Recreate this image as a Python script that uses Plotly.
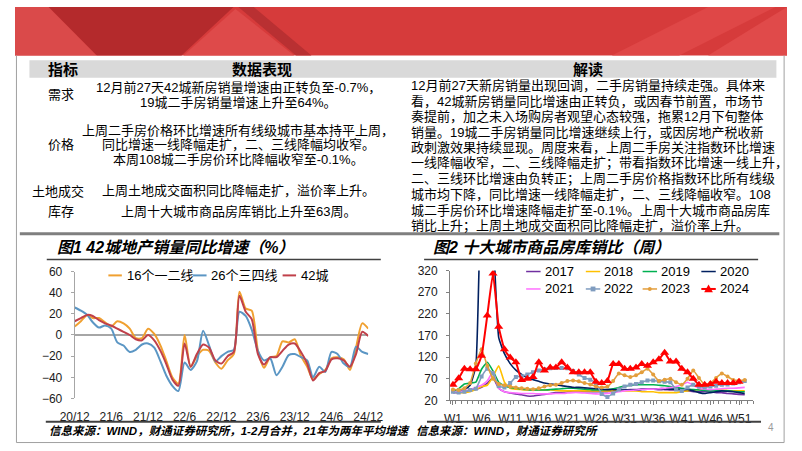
import plotly.graph_objects as go
import pandas as pd

# ---------------- data ----------------
MONTHS = pd.date_range("2020-12-01", "2024-12-01", freq="MS")
CH1_TICK_LABELS = ["20/12", "21/6", "21/12", "22/6", "22/12", "23/6", "23/12", "24/6", "24/12"]
CH1_NAMES = ["16个一二线", "26个三四线", "42城"]
TIER12 = [8, 13, 19, 16, 16, 12, 8, 13, 11, 6,
          -3, -3, 6, 1, -10, -24, -40, -46, 0, -30,
          -20, -14, -15, -26, -32, -24, -18, 41, 25, 23,
          -15, -31, -21, -20, -6, -7, -4, -20, -30, -42,
          -37, -33, -22, -21, -23, -33, -12, 11, 6]
TIER34 = [26, 23, 19, 12, 7, 9, 6, -7, -10, -16,
          -14, -9, -8, -12, -25, -38, -48, -53, -26, -33,
          -25, 4, -10, -25, -20, -16, -14, 22, 18, 5,
          -15, -24, -22, -38, -30, -19, -18, -21, -24, -40,
          -30, -35, -16, -18, -27, -30, -11, -16, -18]
CITY42 = [13, 16, 19, 18, 14, 11, 9, 6, 3, 0,
          -4, -5, 0, -5, -15, -27, -42, -48, -8, -30,
          -18, -9, -12, -24, -27, -20, -16, 37, 22, 15,
          -18, -28, -21, -21, -15, -9, -8, -16, -27, -43,
          -36, -34, -23, -22, -24, -30, -18, 3, -1]

WEEK_TICK_VALS = [1, 6, 11, 16, 21, 26, 31, 36, 41, 46, 51]
WEEK_TICK_LABELS = ["W1", "W6", "W11", "W16", "W21", "W26", "W31", "W36", "W41", "W46", "W51"]
Y2017 = [38, 38, 40, 42, 45, 50, 60, 72, 48, 40, 37, 35, 33, 30, 30, 32, 34, 36, 38, 38,
         40, 40, 40, 40, 40, 40, 40, 40, 42, 42, 44, 45, 45, 46, 46, 46, 45, 45, 44, 44,
         42, 42, 40, 40, 40, 40, 38, 38, 36, 35, 34, 33]
Y2018 = [40, 38, 38, 40, 45, 52, 55, 75, 100, 62, 48, 46, 45, 44, 44, 44, 44, 44, 43, 42,
         42, 42, 42, 42, 42, 42, 42, 42, 42, 42, 42, 42, 42, 40, 40, 40, 38, 38, 38, 38,
         40, 42, 44, 45, 45, 44, 44, 44, 43, 42, 42, 42]
Y2019 = [40, 47, 58, 60, 62, 92, 108, 88, 62, 54, 50, 48, 46, 45, 44, 44, 44, 45, 46, 47,
         48, 48, 47, 46, 45, 44, 44, 45, 47, 50, 53, 55, 56, 56, 56, 56, 55, 54, 52, 50,
         48, 46, 45, 44, 43, 42, 42, 42, 42, 41, 40, 40]
Y2020 = [40, 40, 45, 55, 100, 560, 700, 420, 165, 128, 105, 90, 80, 72, 68, 64, 60, 58, 56, 54,
         52, 50, 50, 49, 48, 47, 46, 45, 45, 44, 44, 44, 44, 45, 46, 46, 47, 47, 46, 46,
         45, 45, 42, 38, 36, 38, 40, 42, 41, 40, 38, 36]
Y2021 = [40, 40, 42, 45, 50, 55, 65, 86, 48, 40, 38, 37, 36, 36, 36, 35, 35, 35, 36, 36,
         37, 38, 38, 37, 36, 35, 35, 36, 38, 40, 42, 43, 44, 45, 46, 46, 47, 48, 50, 52,
         56, 62, 55, 48, 46, 45, 46, 47, 48, 48, 49, 50]
Y2022 = [40, 38, 40, 44, 47, 75, 93, 82, 53, 50, 60, 74, 76, 80, 85, 89, 92, 94, 95, 95,
         94, 88, 80, 72, 68, 60, 35, 28, 36, 45, 52, 56, 58, 62, 66, 66, 64, 63, 62, 45,
         42, 50, 56, 52, 50, 52, 54, 56, 57, 59, 62, 65]
Y2023 = [45, 44, 48, 60, 105, 138, 100, 70, 58, 55, 52, 50, 48, 47, 46, 48, 52, 55, 56, 60,
         65, 66, 64, 60, 57, 52, 50, 52, 65, 82, 78, 74, 78, 85, 93, 80, 65, 68, 70, 62,
         56, 70, 89, 72, 56, 60, 72, 82, 75, 67, 66, 67]
Y2024 = [56, 71, 93, 92, 92, 123, 216, 313, 190, 138, 119, 108, 67, 70, 74, 108, 89, 96, 96, 108,
         96, 85, 85, 85, 85, 63, 60, 65, 104, 104, 93, 93, 96, 104, 100, 108, 115, 130, 110, 110,
         93, 85, 70, 56, 56, 58, 63, 60, 60, 60, 63]
YEARS = ["2017", "2018", "2019", "2020", "2021", "2022", "2023", "2024"]

# ---------------- styles ----------------
W, H = 802, 451
FONT = "Liberation Sans, Noto Sans CJK SC, sans-serif"
C1 = ["#F0A030", "#5B96C4", "#C0404A"]
C2 = {"2017": "#7030A0", "2018": "#FFC000", "2019": "#00B050", "2020": "#002060",
      "2021": "#FF70FF", "2022": "#7F9CBF", "2023": "#E39E3C", "2024": "#FF0000"}


def X(p):
    return p / W


def Y(p):
    return 1 - p / H


shapes, annots = [], []


def line(x0, y0, x1, y1, color, width=1):
    shapes.append(dict(type="line", xref="paper", yref="paper", x0=X(x0), y0=Y(y0),
                       x1=X(x1), y1=Y(y1), line=dict(color=color, width=width)))


def poly(pts, color, layer="below"):
    path = "M " + " L ".join(f"{X(a):.5f},{Y(b):.5f}" for a, b in pts) + " Z"
    shapes.append(dict(type="path", xref="paper", yref="paper", path=path,
                       fillcolor=color, line=dict(width=0), layer=layer))


def text(x, y, s, size=13, color="#000", xanchor="center", family=FONT):
    annots.append(dict(x=X(x), y=Y(y), xref="paper", yref="paper", text=s, showarrow=False,
                       xanchor=xanchor, yanchor="middle", font=dict(size=size, color=color, family=family)))


# ---------------- banner ----------------
poly([(0, 0), (802, 0), (802, 50), (0, 50)], "#D63B3B")
poly([(0, 0), (35, 0), (85, 50), (0, 50)], "#DA4A4A")
poly([(35, 0), (227, 0), (173, 50), (85, 50)], "#B42A2C")
poly([(229, 2), (290, 50), (175, 50)], "#DE4A4A")
poly([(232, 0), (248, 0), (308, 50), (292, 50)], "#B93032")
poly([(620, 50), (690, 50), (790, 0), (720, 0)], "#DF4747")
poly([(720, 50), (802, 50), (802, 0)], "#E04A4A")

# slide frame
line(1.5, 50, 1.5, 449.5, "#A0A0A0", 1)
line(799, 50, 799, 449.5, "#A0A0A0", 1)
line(1.5, 449.5, 799, 449.5, "#A0A0A0", 1)

# ---------------- table ----------------
poly([(15, 55), (791, 55), (791, 73), (15, 73)], "#D9D9D9")
text(50, 64, "<b>指标</b>", 15)
text(257, 64, "<b>数据表现</b>", 15)
text(595, 64, "<b>解读</b>", 15)

text(48, 90, "需求", 13)
text(48, 142, "价格", 13)
text(45, 190, "土地成交", 13)
text(48, 211, "库存", 13)

data_lines = [
    ("12月前27天42城新房销量增速由正转负至-0.7%，", 83),
    ("19城二手房销量增速上升至64%。", 99),
    ("上周二手房价格环比增速所有线级城市基本持平上周，", 127),
    ("同比增速一线降幅走扩，二、三线降幅均收窄。", 142),
    ("本周108城二手房价环比降幅收窄至-0.1%。", 157),
    ("上周土地成交面积同比降幅走扩，溢价率上升。", 189),
    ("上周十大城市商品房库销比上升至63周。", 211),
]
for s, yy in data_lines:
    text(232, yy, s, 13)

read_lines = [
    "12月前27天新房销量出现回调，二手房销量持续走强。具体来",
    "看，42城新房销量同比增速由正转负，或因春节前置，市场节",
    "奏提前，加之未入场购房者观望心态较强，拖累12月下旬整体",
    "销量。19城二手房销量同比增速继续上行，或因房地产税收新",
    "政刺激效果持续显现。周度来看，上周二手房关注指数环比增速",
    "一线降幅收窄，二、三线降幅走扩；带看指数环比增速一线上升，",
    "二、三线环比增速由负转正；上周二手房价格指数环比所有线级",
    "城市均下降，同比增速一线降幅走扩，二、三线降幅收窄。108",
    "城二手房价环比增速降幅走扩至-0.1%。上周十大城市商品房库",
    "销比上升；上周土地成交面积同比降幅走扩，溢价率上升。",
]
for k, s in enumerate(read_lines):
    text(409, 81 + 16.1 * k, s, 13, xanchor="left")

line(5, 234, 794, 234, "#7F7F7F", 3)

# ---------------- chart titles / frames ----------------
text(42, 248, "<b><i>图1 42城地产销量同比增速（%）</i></b>", 16, xanchor="left")
text(432, 248, "<b><i>图2 十大城市商品房库销比（周）</i></b>", 16, xanchor="left")
line(33, 260.5, 380, 260.5, "#404040", 1.5)
line(425, 260.5, 772, 260.5, "#404040", 1.5)
line(32, 428, 380, 428, "#404040", 2)
line(428, 428, 775, 428, "#404040", 2)
text(33, 438, "<b><i>信息来源：WIND，财通证券研究所，1-2月合并，21年为两年平均增速</i></b>", 11.5, xanchor="left")
text(415, 438, "<b><i>信息来源：WIND，财通证券研究所</i></b>", 11.5, xanchor="left")
text(785, 434, "4", 10, color="#9A9A9A")

# ---------------- legends (manual) ----------------
leg1 = [(97, CH1_NAMES[0], C1[0]), (185, CH1_NAMES[1], C1[1]), (278, CH1_NAMES[2], C1[2])]
for x0, name, col in leg1:
    line(x0, 277, x0 + 14, 277, col, 2)
    text(x0 + 17, 277, name, 13, xanchor="left")

cols = [531, 593, 652, 713]
rows = [273, 291]
for idx, yr in enumerate(YEARS):
    x0 = cols[idx % 4]
    yy = rows[idx // 4]
    col = C2[yr]
    line(x0, yy, x0 + 15, yy, col, 2 if yr == "2024" else 1.5)
    cx = x0 + 7.5
    if yr == "2022":
        poly([(cx - 2.5, yy - 2.5), (cx + 2.5, yy - 2.5), (cx + 2.5, yy + 2.5), (cx - 2.5, yy + 2.5)], col, "above")
    elif yr == "2023":
        shapes.append(dict(type="circle", xref="paper", yref="paper", x0=X(cx - 2), x1=X(cx + 2),
                           y0=Y(yy + 2), y1=Y(yy - 2), fillcolor=col, line=dict(width=0)))
    elif yr == "2024":
        poly([(cx - 4.5, yy + 3.5), (cx + 4.5, yy + 3.5), (cx, yy - 4.5)], col, "above")
    text(x0 + 17, yy, yr, 13, xanchor="left")

# ---------------- figure ----------------
fig = go.Figure()

for vals, name, col in zip([TIER12, TIER34, CITY42], CH1_NAMES, C1):
    fig.add_trace(go.Scatter(x=MONTHS, y=vals, name=name, mode="lines",
                             line=dict(color=col, width=2, shape="spline", smoothing=0.7),
                             xaxis="x", yaxis="y", hoverinfo="skip"))

series2 = dict(zip(YEARS, [Y2017, Y2018, Y2019, Y2020, Y2021, Y2022, Y2023, Y2024]))
for yr in YEARS:
    vals = series2[yr]
    weeks = list(range(1, len(vals) + 1))
    kw = dict(mode="lines")
    width = 1.6
    if yr == "2022":
        kw = dict(mode="lines+markers", marker=dict(symbol="square", size=4, color=C2[yr]))
    elif yr == "2023":
        kw = dict(mode="lines+markers", marker=dict(symbol="circle", size=4, color=C2[yr]))
    elif yr == "2024":
        kw = dict(mode="lines+markers", marker=dict(symbol="triangle-up", size=8, color=C2[yr]))
        width = 2
    fig.add_trace(go.Scatter(x=weeks, y=vals, name=yr, line=dict(color=C2[yr], width=width,
                             shape="spline", smoothing=0.4), xaxis="x2", yaxis="y2",
                             hoverinfo="skip", cliponaxis=True, **kw))

tick_font = dict(size=12, color="#1A1A1A", family=FONT)
fig.update_layout(
    width=W, height=H, margin=dict(l=0, r=0, t=0, b=0),
    paper_bgcolor="white", plot_bgcolor="rgba(0,0,0,0)", showlegend=False,
    xaxis=dict(domain=[X(62), X(367)], type="date", range=[MONTHS[0], MONTHS[-1]],
               tickvals=list(MONTHS[::6]), ticktext=CH1_TICK_LABELS, showgrid=False,
               showline=False, zeroline=False, ticks="", tickfont=tick_font, anchor="y",
               ticklabelstandoff=10),
    yaxis=dict(domain=[Y(404), Y(273)], range=[-60, 60], dtick=20, showgrid=False,
               showline=True, linecolor="#A6A6A6", linewidth=1, ticks="outside", ticklen=3,
               tickcolor="#A6A6A6", zeroline=True, zerolinecolor="#A6A6A6", zerolinewidth=1.5,
               tickfont=tick_font, anchor="x", ticklabelstandoff=6),
    xaxis2=dict(domain=[X(452), X(767)], range=[0.5, 53.5], tickvals=WEEK_TICK_VALS,
                ticktext=WEEK_TICK_LABELS, showgrid=False, showline=True, linecolor="#808080",
                ticks="outside", ticklen=4, tickcolor="#808080", zeroline=False,
                minor=dict(dtick=1, tick0=0.5, ticks="outside", ticklen=3, tickcolor="#808080"),
                tickfont=tick_font, anchor="y2", ticklabelstandoff=3),
    yaxis2=dict(domain=[Y(406), Y(272)], range=[20, 320], tickvals=list(range(20, 321, 50)),
                showgrid=False, showline=True, linecolor="#808080", ticks="outside", ticklen=3,
                tickcolor="#808080", zeroline=False, tickfont=tick_font, anchor="x2",
                ticklabelstandoff=6),
    shapes=shapes, annotations=annots,
)

fig.write_html("out.html")
